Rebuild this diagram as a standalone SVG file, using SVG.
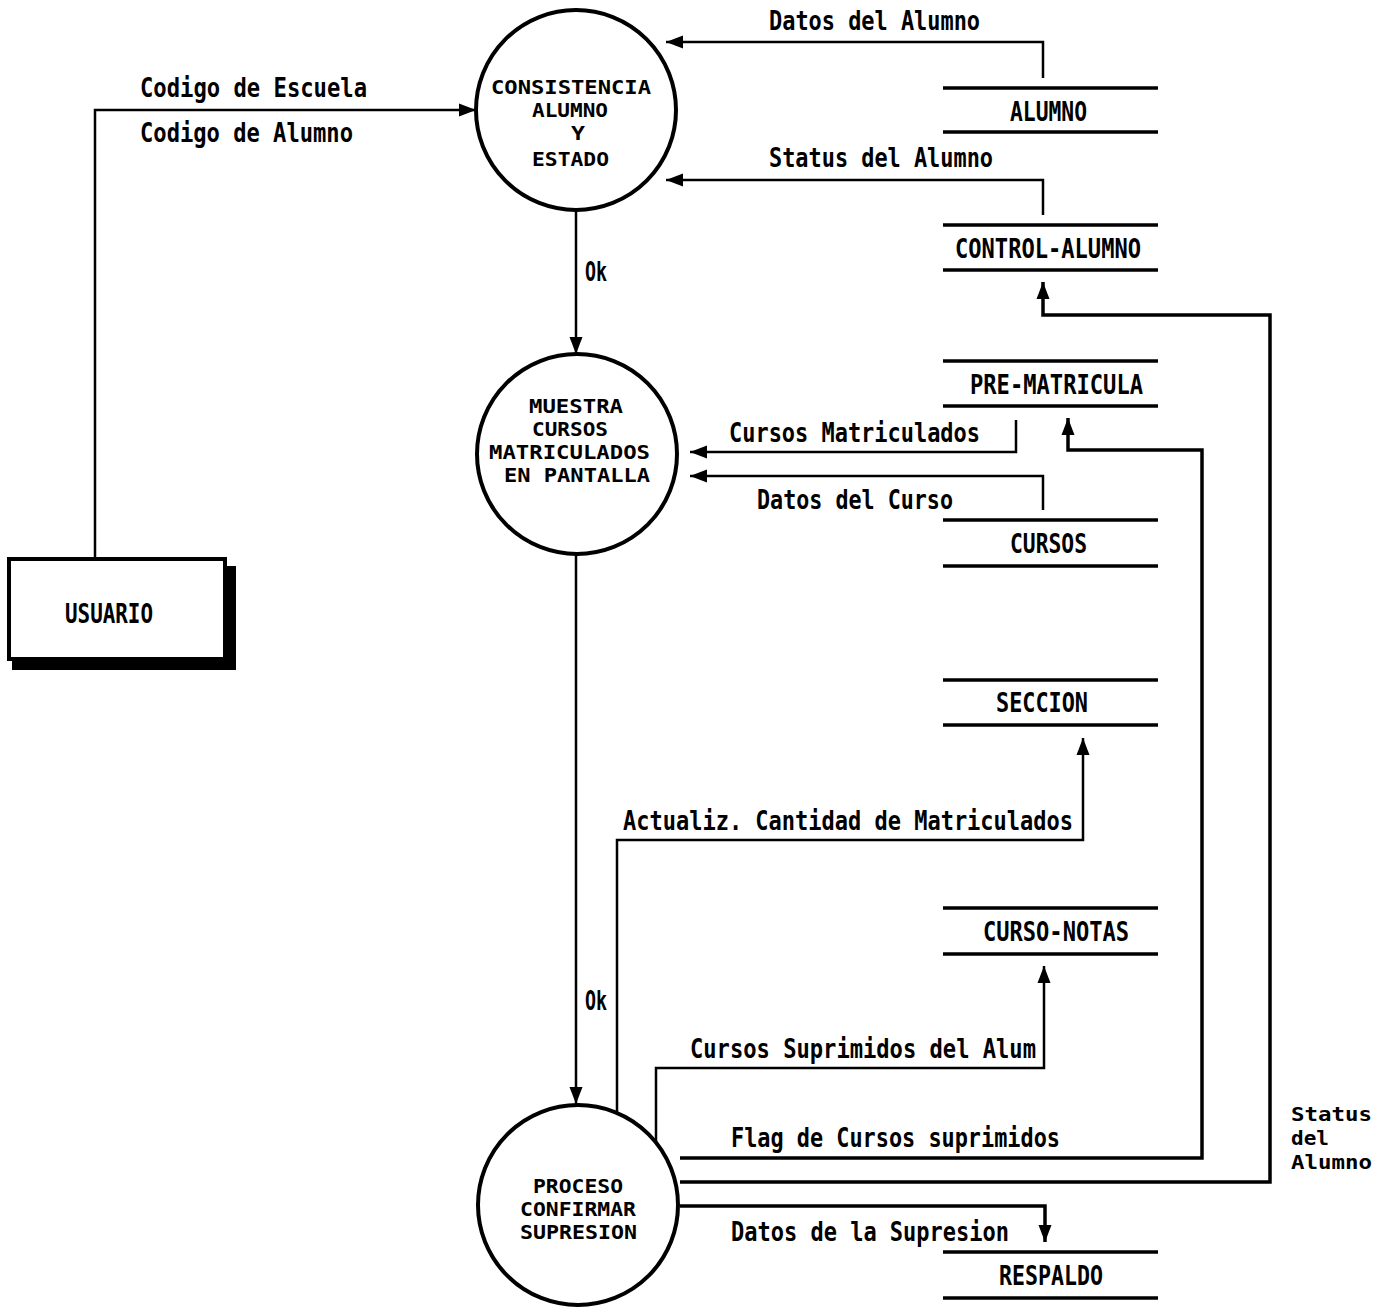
<svg xmlns="http://www.w3.org/2000/svg" width="1390" height="1312" viewBox="0 0 1390 1312">
  <style>
    .proc { fill: #fff; stroke: #000; stroke-width: 4; }
    .store { stroke: #000; stroke-width: 3.5; }
    .flow { fill: none; stroke: #000; stroke-width: 2.5; }
    .flow-b { fill: none; stroke: #000; stroke-width: 3.5; }
    .lbl { font-family: "DejaVu Sans Mono", "Liberation Mono", monospace; font-weight: bold; font-size: 26px; fill: #000; }
    .lbl-s { font-family: "DejaVu Sans Mono", "Liberation Mono", monospace; font-weight: bold; font-size: 20px; fill: #000; }
    .nlbl { font-family: "DejaVu Sans Mono", "Liberation Mono", monospace; font-weight: bold; font-size: 27px; fill: #000; }
    .plbl { font-family: "DejaVu Sans Mono", "Liberation Mono", monospace; font-weight: bold; font-size: 20px; fill: #000; }
  </style>
  <defs>
    <marker id="arrow" markerUnits="userSpaceOnUse" markerWidth="18" markerHeight="14" refX="17" refY="7" orient="auto">
      <path d="M0,0.5 L17,7 L0,13.5 z" fill="#000"/>
    </marker>
  </defs>
  <rect width="1390" height="1312" fill="#fff"/>

  <!-- data flows -->
  <g id="connectors">
    <path class="flow" d="M95,557 V110 H476" marker-end="url(#arrow)"/>
    <path class="flow" d="M1043,78 V42 H666" marker-end="url(#arrow)"/>
    <path class="flow" d="M1043,215 V180 H666" marker-end="url(#arrow)"/>
    <path class="flow" d="M576,210 V354" marker-end="url(#arrow)"/>
    <path class="flow" d="M1016,420 V452 H690" marker-end="url(#arrow)"/>
    <path class="flow" d="M1043,510 V476 H690" marker-end="url(#arrow)"/>
    <path class="flow" d="M576,555 V1104" marker-end="url(#arrow)"/>
    <path class="flow" d="M617,1112 V840 H1083 V738" marker-end="url(#arrow)"/>
    <path class="flow" d="M656,1142 V1068 H1044 V966" marker-end="url(#arrow)"/>
    <path class="flow-b" d="M680,1158 H1202 V450 H1068 V418" marker-end="url(#arrow)"/>
    <path class="flow-b" d="M680,1182 H1270 V315 H1043 V282" marker-end="url(#arrow)"/>
    <path class="flow-b" d="M680,1206 H1045 V1242" marker-end="url(#arrow)"/>

    <text class="lbl" x="769" y="30" textLength="211" lengthAdjust="spacingAndGlyphs">Datos del Alumno</text>
    <text class="lbl" x="140" y="97" textLength="227" lengthAdjust="spacingAndGlyphs">Codigo de Escuela</text>
    <text class="lbl" x="140" y="142" textLength="213" lengthAdjust="spacingAndGlyphs">Codigo de Alumno</text>
    <text class="lbl" x="769" y="167" textLength="224" lengthAdjust="spacingAndGlyphs">Status del Alumno</text>
    <text class="lbl" x="585" y="281" textLength="22" lengthAdjust="spacingAndGlyphs">Ok</text>
    <text class="lbl" x="729" y="442" textLength="251" lengthAdjust="spacingAndGlyphs">Cursos Matriculados</text>
    <text class="lbl" x="757" y="509" textLength="196" lengthAdjust="spacingAndGlyphs">Datos del Curso</text>
    <text class="lbl" x="623" y="830" textLength="450" lengthAdjust="spacingAndGlyphs">Actualiz. Cantidad de Matriculados</text>
    <text class="lbl" x="585" y="1010" textLength="22" lengthAdjust="spacingAndGlyphs">Ok</text>
    <text class="lbl" x="690" y="1058" textLength="346" lengthAdjust="spacingAndGlyphs">Cursos Suprimidos del Alum</text>
    <text class="lbl" x="731" y="1147" textLength="329" lengthAdjust="spacingAndGlyphs">Flag de Cursos suprimidos</text>
    <text class="lbl" x="731" y="1241" textLength="278" lengthAdjust="spacingAndGlyphs">Datos de la Supresion</text>
    <text class="lbl-s" x="1291" y="1121" textLength="81" lengthAdjust="spacingAndGlyphs">Status</text>
    <text class="lbl-s" x="1291" y="1145" textLength="38" lengthAdjust="spacingAndGlyphs">del</text>
    <text class="lbl-s" x="1291" y="1169" textLength="81" lengthAdjust="spacingAndGlyphs">Alumno</text>
  </g>

  <!-- external entity -->
  <g id="usuario">
    <rect x="225" y="566" width="11" height="104" fill="#000"/>
    <rect x="12" y="658" width="224" height="12" fill="#000"/>
    <rect x="9" y="559" width="216" height="100" fill="#fff" stroke="#000" stroke-width="4"/>
    <text class="nlbl" x="65" y="623" textLength="88" lengthAdjust="spacingAndGlyphs">USUARIO</text>
  </g>

  <!-- processes -->
  <g id="p-consistencia">
    <circle class="proc" cx="576" cy="110" r="100"/>
    <text class="plbl" x="491" y="94" textLength="160" lengthAdjust="spacingAndGlyphs">CONSISTENCIA</text>
    <text class="plbl" x="532" y="117" textLength="76" lengthAdjust="spacingAndGlyphs">ALUMNO</text>
    <text class="plbl" x="571" y="140" textLength="14" lengthAdjust="spacingAndGlyphs">Y</text>
    <text class="plbl" x="532" y="166" textLength="77" lengthAdjust="spacingAndGlyphs">ESTADO</text>
  </g>
  <g id="p-muestra">
    <circle class="proc" cx="577" cy="454" r="100"/>
    <text class="plbl" x="529" y="413" textLength="94" lengthAdjust="spacingAndGlyphs">MUESTRA</text>
    <text class="plbl" x="532" y="436" textLength="76" lengthAdjust="spacingAndGlyphs">CURSOS</text>
    <text class="plbl" x="489" y="459" textLength="161" lengthAdjust="spacingAndGlyphs">MATRICULADOS</text>
    <text class="plbl" x="504" y="482" textLength="146" lengthAdjust="spacingAndGlyphs">EN PANTALLA</text>
  </g>
  <g id="p-proceso">
    <circle class="proc" cx="578" cy="1205" r="100"/>
    <text class="plbl" x="533" y="1193" textLength="90" lengthAdjust="spacingAndGlyphs">PROCESO</text>
    <text class="plbl" x="520" y="1216" textLength="116" lengthAdjust="spacingAndGlyphs">CONFIRMAR</text>
    <text class="plbl" x="520" y="1239" textLength="117" lengthAdjust="spacingAndGlyphs">SUPRESION</text>
  </g>

  <!-- data stores -->
  <g id="s-alumno">
    <line class="store" x1="943" y1="88" x2="1158" y2="88"/>
    <line class="store" x1="943" y1="132" x2="1158" y2="132"/>
    <text class="nlbl" x="1010" y="121" textLength="77" lengthAdjust="spacingAndGlyphs">ALUMNO</text>
  </g>
  <g id="s-control-alumno">
    <line class="store" x1="943" y1="225" x2="1158" y2="225"/>
    <line class="store" x1="943" y1="270" x2="1158" y2="270"/>
    <text class="nlbl" x="955" y="258" textLength="186" lengthAdjust="spacingAndGlyphs">CONTROL-ALUMNO</text>
  </g>
  <g id="s-pre-matricula">
    <line class="store" x1="943" y1="361" x2="1158" y2="361"/>
    <line class="store" x1="943" y1="406" x2="1158" y2="406"/>
    <text class="nlbl" x="970" y="394" textLength="173" lengthAdjust="spacingAndGlyphs">PRE-MATRICULA</text>
  </g>
  <g id="s-cursos">
    <line class="store" x1="943" y1="520" x2="1158" y2="520"/>
    <line class="store" x1="943" y1="566" x2="1158" y2="566"/>
    <text class="nlbl" x="1010" y="553" textLength="77" lengthAdjust="spacingAndGlyphs">CURSOS</text>
  </g>
  <g id="s-seccion">
    <line class="store" x1="943" y1="680" x2="1158" y2="680"/>
    <line class="store" x1="943" y1="725" x2="1158" y2="725"/>
    <text class="nlbl" x="996" y="712" textLength="92" lengthAdjust="spacingAndGlyphs">SECCION</text>
  </g>
  <g id="s-curso-notas">
    <line class="store" x1="943" y1="908" x2="1158" y2="908"/>
    <line class="store" x1="943" y1="954" x2="1158" y2="954"/>
    <text class="nlbl" x="983" y="941" textLength="146" lengthAdjust="spacingAndGlyphs">CURSO-NOTAS</text>
  </g>
  <g id="s-respaldo">
    <line class="store" x1="943" y1="1252" x2="1158" y2="1252"/>
    <line class="store" x1="943" y1="1298" x2="1158" y2="1298"/>
    <text class="nlbl" x="999" y="1285" textLength="104" lengthAdjust="spacingAndGlyphs">RESPALDO</text>
  </g>
</svg>
